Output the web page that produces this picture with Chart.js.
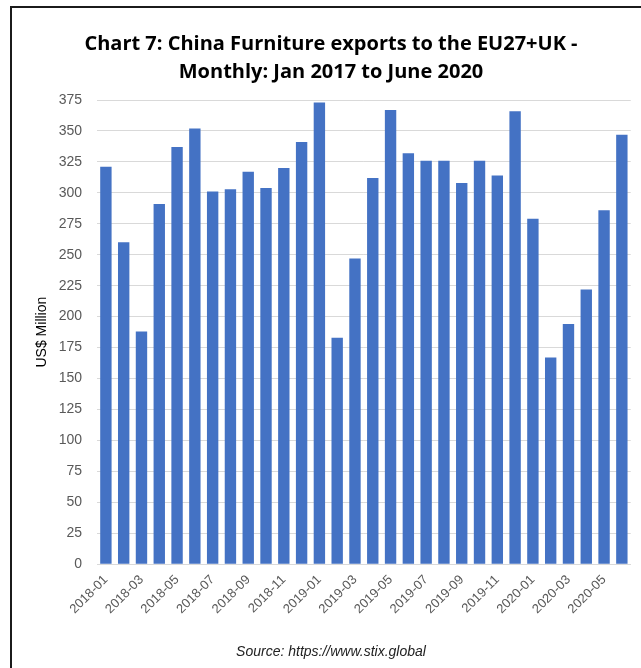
<!DOCTYPE html>
<html>
<head>
<meta charset="utf-8">
<script src="https://cdn.jsdelivr.net/npm/chart.js@4.4.1/dist/chart.umd.min.js"></script>
<style>
  html, body { margin: 0; padding: 0; background: #fff; }
  #wrap { position: relative; width: 641px; height: 668px; }
  #frame {
    position: absolute; left: 10px; top: 6px; right: 0; bottom: 0;
    border-left: 2px solid #1b1b1b; border-top: 2px solid #1b1b1b;
    pointer-events: none;
  }
</style>
</head>
<body>
<div id="wrap">
  <canvas id="myChart" width="641" height="668"></canvas>
  <div id="frame"></div>
</div>
<script>
// monthly exports, US$ million
const months = [
  "2018-01", "2018-02", "2018-03", "2018-04", "2018-05", "2018-06",
  "2018-07", "2018-08", "2018-09", "2018-10", "2018-11", "2018-12",
  "2019-01", "2019-02", "2019-03", "2019-04", "2019-05", "2019-06",
  "2019-07", "2019-08", "2019-09", "2019-10", "2019-11", "2019-12",
  "2020-01", "2020-02", "2020-03", "2020-04", "2020-05", "2020-06"
];
const exportsUsd = [
  321, 260, 188, 291, 337, 352, 301, 303, 317, 304, 320, 341,
  373, 183, 247, 312, 367, 332, 326, 326, 308, 326, 314, 366,
  279, 167, 194, 222, 286, 347
];
const yTicks = [0, 25, 50, 75, 100, 125, 150, 175, 200, 225, 250, 275, 300, 325, 350, 375];

const ctx = document.getElementById('myChart').getContext('2d');
const labelFont = "'Liberation Sans', 'DejaVu Sans', sans-serif";

new Chart(ctx, {
  type: 'bar',
  data: {
    labels: months,
    datasets: [{
      data: exportsUsd,
      backgroundColor: '#4472C4',
      borderWidth: 0,
      barPercentage: 0.64,
      categoryPercentage: 1.0
    }]
  },
  options: {
    responsive: false,
    animation: false,
    layout: { padding: { left: 28, right: 7, top: 0, bottom: 7 } },
    plugins: {
      legend: { display: false },
      tooltip: { enabled: false },
      title: {
        display: true,
        text: ['Chart 7: China Furniture exports to the EU27+UK -', 'Monthly: Jan 2017 to June 2020'],
        color: '#000',
        font: { family: "'Open Sans', sans-serif", size: 20, weight: 'bold', lineHeight: 1.4 },
        padding: { top: 30, bottom: 14 }
      },
      subtitle: {
        display: true,
        position: 'bottom',
        text: 'Source: https://www.stix.global',
        color: '#222',
        font: { family: labelFont, size: 14, style: 'italic' },
        padding: { top: 0, bottom: 0 }
      }
    },
    scales: {
      x: {
        grid: { display: false, drawTicks: false },
        border: { color: '#d9d9d9', width: 1 },
        ticks: {
          autoSkip: false,
          minRotation: 45,
          maxRotation: 45,
          padding: 8,
          color: '#595959',
          font: { family: labelFont, size: 13 },
          callback: (v, i) => (i % 2 === 0 ? months[i] : '')
        },
        afterFit: (s) => { s.height = 80; }
      },
      y: {
        min: 0,
        max: 375,
        afterBuildTicks: (s) => { s.ticks = yTicks.map(v => ({ value: v })); },
        grid: { color: '#d9d9d9', lineWidth: 1, drawTicks: false },
        border: { display: false },
        ticks: {
          padding: 15,
          color: '#595959',
          font: { family: labelFont, size: 14 }
        },
        title: {
          display: true,
          text: 'US$ Million',
          color: '#000',
          font: { family: labelFont, size: 14 },
          padding: { top: 6, bottom: 0 }
        },
        afterFit: (s) => { s.width = 69; }
      }
    }
  }
});
</script>
</body>
</html>
